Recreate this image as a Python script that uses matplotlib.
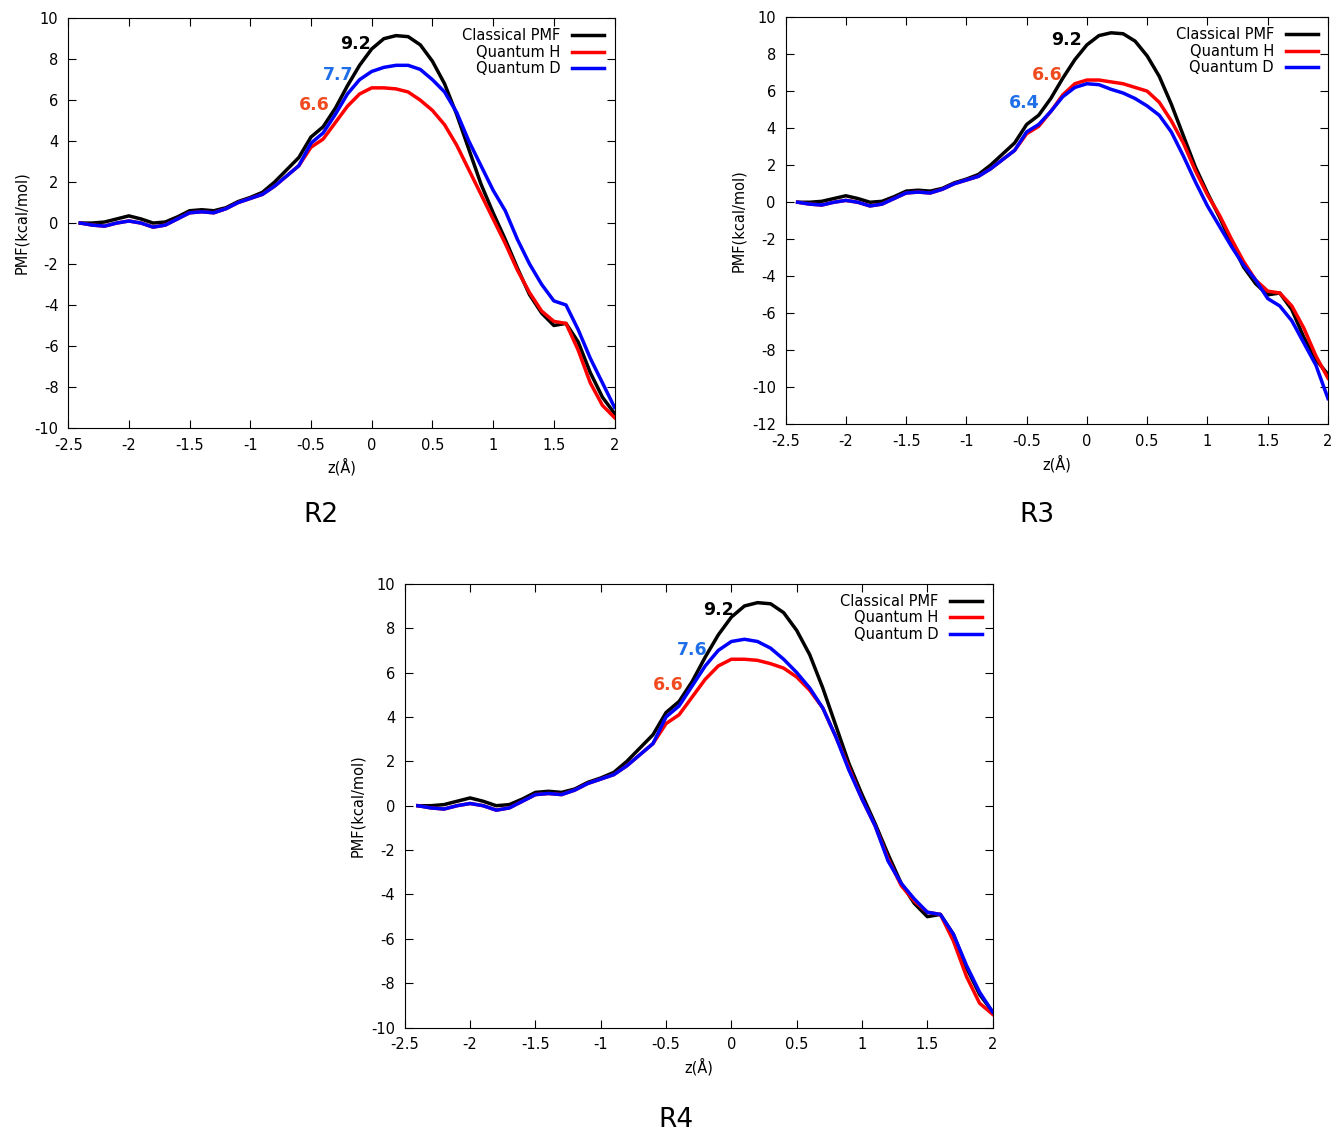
import numpy as np
import matplotlib.pyplot as plt

plt.rcParams['axes.unicode_minus'] = False

z = np.round(np.arange(-2.4, 2.01, 0.1), 2)

classical = [0, 0, 0.05, 0.2, 0.35, 0.2, 0, 0.05, 0.3, 0.6, 0.65, 0.6, 0.75, 1.05, 1.25, 1.5,
             2.0, 2.6, 3.2, 4.2, 4.7, 5.6, 6.7, 7.7, 8.5, 9.0, 9.15, 9.1, 8.7, 7.9, 6.8, 5.3,
             3.6, 1.9, 0.5, -0.8, -2.2, -3.5, -4.4, -5.0, -4.9, -5.8, -7.3, -8.5, -9.3]
head = [0, -0.1, -0.15, 0, 0.1, 0, -0.2, -0.1, 0.2, 0.5, 0.55, 0.5, 0.7, 1.0, 1.2, 1.4,
        1.8, 2.3, 2.8]

r2_h = head + [3.7, 4.1, 4.9, 5.7, 6.3, 6.6, 6.6, 6.55, 6.4, 6.0, 5.5, 4.8, 3.8,
               2.6, 1.4, 0.2, -1.0, -2.3, -3.4, -4.3, -4.8, -4.9, -6.2, -7.8, -8.9, -9.5]
r2_d = head + [3.9, 4.4, 5.3, 6.3, 7.0, 7.4, 7.6, 7.7, 7.7, 7.5, 7.0, 6.4, 5.4,
               4.0, 2.8, 1.6, 0.6, -0.8, -2.0, -3.0, -3.8, -4.0, -5.2, -6.6, -7.8, -9.0]
r3_h = head + [3.7, 4.1, 4.9, 5.8, 6.4, 6.6, 6.6, 6.5, 6.4, 6.2, 6.0, 5.4, 4.4,
               3.2, 1.7, 0.4, -0.7, -2.0, -3.2, -4.2, -4.8, -4.9, -5.6, -6.8, -8.3, -9.5]
r3_d = head + [3.8, 4.2, 4.9, 5.7, 6.2, 6.4, 6.35, 6.1, 5.9, 5.6, 5.2, 4.7, 3.8,
               2.5, 1.1, -0.2, -1.3, -2.4, -3.4, -4.2, -5.2, -5.6, -6.4, -7.6, -8.8, -10.6]
r4_h = head + [3.7, 4.1, 4.9, 5.7, 6.3, 6.6, 6.6, 6.55, 6.4, 6.2, 5.8, 5.2, 4.4,
               3.1, 1.7, 0.3, -0.9, -2.4, -3.6, -4.3, -4.8, -4.9, -6.1, -7.7, -8.9, -9.4]
r4_d = head + [4.0, 4.5, 5.4, 6.3, 7.0, 7.4, 7.5, 7.4, 7.1, 6.6, 6.0, 5.3, 4.4,
               3.1, 1.6, 0.3, -0.9, -2.5, -3.5, -4.2, -4.8, -4.9, -5.8, -7.2, -8.4, -9.3]

RED_T, BLUE_T = '#f04a1e', '#1f6fe8'

panels = [
    dict(rect=[0.051, 0.624, 0.409, 0.360], h=r2_h, d=r2_d, ylim=(-10, 10), name='R2',
         name_xy=(0.24, 0.541),
         notes=[('9.2', -0.13, 8.5, 'black'), ('7.7', -0.28, 7.0, BLUE_T), ('6.6', -0.47, 5.5, RED_T)]),
    dict(rect=[0.588, 0.627, 0.406, 0.358], h=r3_h, d=r3_d, ylim=(-12, 10), name='R3',
         name_xy=(0.776, 0.541),
         notes=[('9.2', -0.17, 8.5, 'black'), ('6.6', -0.33, 6.6, RED_T), ('6.4', -0.52, 5.1, BLUE_T)]),
    dict(rect=[0.303, 0.097, 0.440, 0.390], h=r4_h, d=r4_d, ylim=(-10, 10), name='R4',
         name_xy=(0.506, 0.01),
         notes=[('9.2', -0.1, 8.6, 'black'), ('7.6', -0.3, 6.8, BLUE_T), ('6.6', -0.48, 5.2, RED_T)]),
]

fig = plt.figure(figsize=(13.36, 11.38), dpi=100)
for p in panels:
    ax = fig.add_axes(p['rect'])
    ax.plot(z, classical, color='black', lw=2.5, label='Classical PMF')
    ax.plot(z, p['h'], color='#ff0000', lw=2.5, label='Quantum H')
    ax.plot(z, p['d'], color='#0000ff', lw=2.5, label='Quantum D')
    ax.set_xlim(-2.5, 2)
    ax.set_ylim(*p['ylim'])
    ax.set_xticks(np.arange(-2.5, 2.01, 0.5))
    ax.set_xticklabels(['-2.5', '-2', '-1.5', '-1', '-0.5', '0', '0.5', '1', '1.5', '2'])
    ax.set_yticks(np.arange(p['ylim'][0], 10.1, 2))
    ax.tick_params(direction='in', top=True, right=True, labelsize=10.5, length=6)
    ax.tick_params(axis='x', pad=7)
    ax.tick_params(axis='y', pad=7)
    ax.set_xlabel('z(Å)', fontsize=10.5)
    ax.set_ylabel('PMF(kcal/mol)', fontsize=10.5)
    for t, x, y, c in p['notes']:
        ax.text(x, y, t, color=c, fontsize=12.5, fontweight='bold', ha='center')
    ax.legend(loc='upper right', frameon=False, markerfirst=False, fontsize=10.5,
              handlelength=2.2, labelspacing=0.1, borderaxespad=0.3)
    fig.text(p['name_xy'][0], p['name_xy'][1], p['name'], fontsize=19, ha='center')

fig.savefig('out.png', dpi=100)
